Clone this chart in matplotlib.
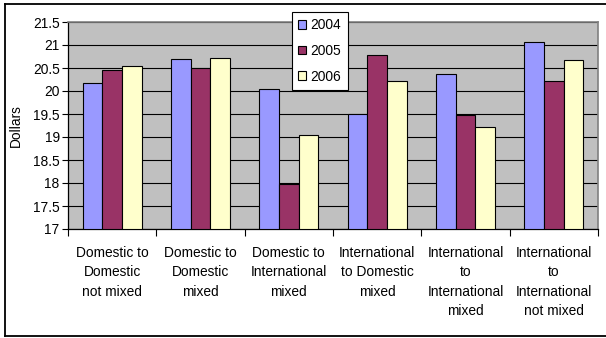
import matplotlib
matplotlib.use("Agg")
import matplotlib.pyplot as plt
from matplotlib.patches import Rectangle
from matplotlib.lines import Line2D
import numpy as np

categories = [
    "Domestic to\nDomestic\nnot mixed",
    "Domestic to\nDomestic\nmixed",
    "Domestic to\nInternational\nmixed",
    "International\nto Domestic\nmixed",
    "International\nto\nInternational\nmixed",
    "International\nto\nInternational\nnot mixed",
]
series_names = ["2004", "2005", "2006"]
v2004 = [20.17, 20.70, 20.04, 19.50, 20.38, 21.06]
v2005 = [20.45, 20.50, 17.97, 20.78, 19.47, 20.22]
v2006 = [20.55, 20.72, 19.04, 20.22, 19.22, 20.68]
yticks = [17, 17.5, 18, 18.5, 19, 19.5, 20, 20.5, 21, 21.5]
ytick_labels = ["17", "17.5", "18", "18.5", "19", "19.5", "20", "20.5", "21", "21.5"]

colors = ["#9999FF", "#993366", "#FFFFCC"]

plt.rcParams['font.family'] = ['Liberation Sans', 'DejaVu Sans']
fs = 9.9

fig = plt.figure(figsize=(6.06, 3.38), dpi=100)
W, H = 606, 338
ax = fig.add_axes([68 / W, 1 - 229 / H, 530 / W, 207 / H])
ax.set_facecolor("#C0C0C0")

x = np.arange(len(categories))
w = 1 / 4.5
for k, vals in enumerate([v2004, v2005, v2006]):
    ax.bar(x + (k - 1) * w, np.array(vals) - 17, bottom=17, width=w,
           color=colors[k], edgecolor="black", linewidth=0.8, zorder=3)

ax.set_xlim(-0.5, len(categories) - 0.5)
ax.set_ylim(17, 21.5)
ax.set_yticks(yticks)
ax.set_yticklabels(ytick_labels, fontsize=fs)
ax.yaxis.grid(True, color="black", linewidth=0.8, zorder=1)
ax.set_axisbelow(True)
ax.tick_params(axis="y", direction="out", length=4, width=0.8, pad=2, colors="black")

ax.set_xticks(x)
ax.set_xticklabels(categories, fontsize=fs, linespacing=1.5)
ax.tick_params(axis="x", which="major", length=0, pad=12)
ax.set_xticks(np.arange(len(categories) + 1) - 0.5, minor=True)
ax.tick_params(axis="x", which="minor", direction="out", length=5, width=0.8)

for s in ["left", "bottom"]:
    ax.spines[s].set_color("black")
    ax.spines[s].set_linewidth(0.9)
for s in ["top", "right"]:
    ax.spines[s].set_color("#808080")
    ax.spines[s].set_linewidth(1.2)

ax.set_ylabel("Dollars", fontsize=fs)
ax.yaxis.set_label_coords(-45 / 530, 0.5)

leg_handles = [Rectangle((0, 0), 1, 1, facecolor=c, edgecolor="black", linewidth=0.8)
               for c in colors]
leg = fig.legend(leg_handles, series_names, loc="upper left",
                 bbox_to_anchor=(292 / W, 1 - 12 / H), fontsize=fs,
                 frameon=True, fancybox=False, framealpha=1, edgecolor="black",
                 handlelength=0.6, handleheight=0.6, handletextpad=0.3,
                 labelspacing=0.85, borderpad=0.45, borderaxespad=0)
leg.get_frame().set_linewidth(0.8)

# outer chart frame
fig.add_artist(Line2D([4.5 / W, 4.5 / W], [1 - 3.5 / H, 1 - 336 / H], color="black", linewidth=1.3, transform=fig.transFigure))
fig.add_artist(Line2D([4.5 / W, 1.0], [1 - 3.5 / H, 1 - 3.5 / H], color="black", linewidth=1.3, transform=fig.transFigure))
fig.add_artist(Line2D([4.5 / W, 1.0], [1 - 336 / H, 1 - 336 / H], color="black", linewidth=1.3, transform=fig.transFigure))

fig.savefig("out.png", dpi=100)
